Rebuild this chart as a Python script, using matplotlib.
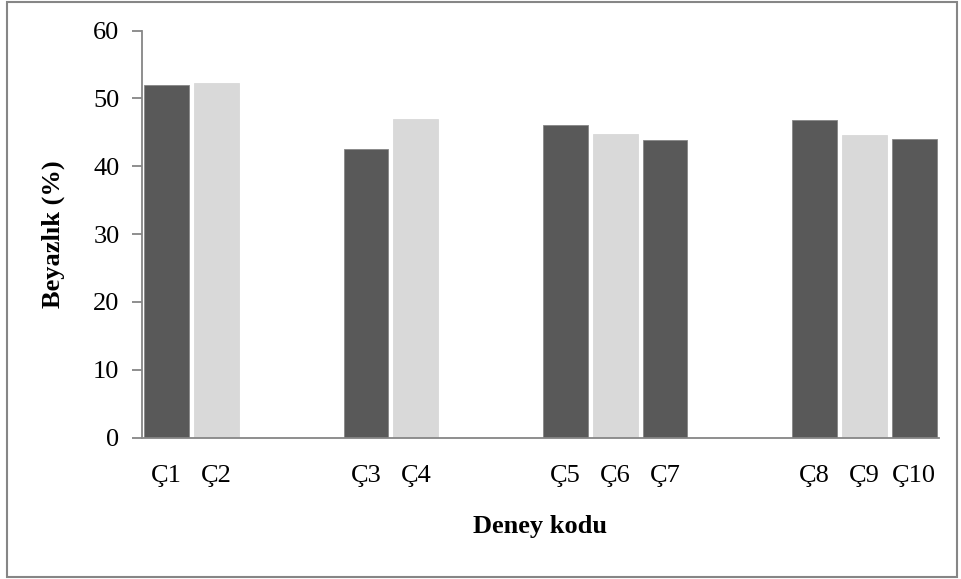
import matplotlib.pyplot as plt
import numpy as np

plt.rcParams['font.family'] = ['Liberation Serif', 'DejaVu Serif']

codes = ["Ç1", "Ç2", "Ç3", "Ç4", "Ç5", "Ç6", "Ç7", "Ç8", "Ç9", "Ç10"]
whiteness = [51.9, 52.3, 42.5, 46.9, 46.1, 44.8, 43.8, 46.8, 44.6, 44.0]
group_sizes = [2, 2, 3, 3]

dark = "#595959"
light = "#d9d9d9"
axis_gray = "#868686"

# slot positions: groups separated by two empty slots
pos = []
colors = []
start = 0
for n in group_sizes:
    for i in range(n):
        pos.append(start + i)
        colors.append(dark if i % 2 == 0 else light)
    start += n + 2
pos = np.array(pos)

fig = plt.figure(figsize=(9.61, 5.79), dpi=100)
ax = fig.add_axes([141.7 / 961, 1 - 437.7 / 579, (939 - 141.7) / 961, (437.7 - 30.5) / 579])

ax.bar(pos, whiteness, width=0.9, color=colors, edgecolor=[axis_gray if c == dark else light for c in colors],
       linewidth=0.6, zorder=2)

ax.set_xlim(-0.5, pos[-1] + 0.5)
ax.set_ylim(0, 60)
ax.set_yticks(np.arange(0, 61, 10))
ax.set_xticks(pos)
ax.set_xticklabels(codes)
ax.tick_params(axis='y', labelsize=19, direction='out', length=7, color=axis_gray, width=1.3, pad=9)
ax.tick_params(axis='x', labelsize=19, length=0, pad=20)

for s in ["top", "right"]:
    ax.spines[s].set_visible(False)
for s in ["left", "bottom"]:
    ax.spines[s].set_color(axis_gray)
    ax.spines[s].set_linewidth(1.3)

ax.set_ylabel("Beyazlık (%)", fontsize=19, fontweight="bold", labelpad=20)
ax.set_xlabel("Deney kodu", fontsize=19, fontweight="bold", labelpad=20)

border = plt.Rectangle((7 / 961, 2 / 579), 950 / 961, 575 / 579, transform=fig.transFigure,
                       fill=False, edgecolor=axis_gray, linewidth=1.5)
fig.patches.append(border)

fig.savefig("out.png", dpi=100)
